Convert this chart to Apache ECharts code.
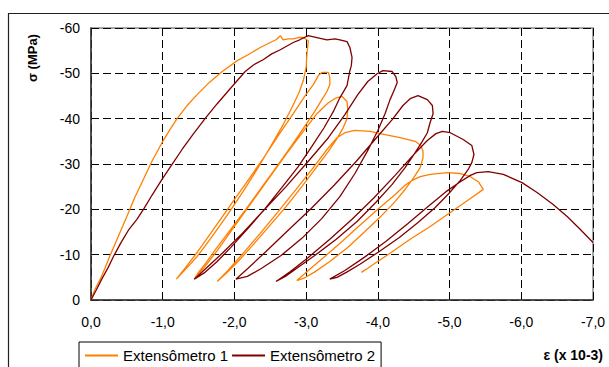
<!DOCTYPE html>
<html>
<head>
<meta charset="utf-8">
<script src="https://cdn.jsdelivr.net/npm/echarts@6/dist/echarts.min.js"></script>
<style>
html,body{margin:0;padding:0;background:#fff;}
#chart{width:609px;height:367px;}
</style>
</head>
<body>
<div id="chart"></div>
<script>
// ---- Data: strain (x 10-3) and stress (MPa) ----
const seriesNames = ['Extensômetro 1', 'Extensômetro 2'];
const xAxisName = 'ε (x 10-3)';
const yAxisName = 'σ (MPa)';

// Extensômetro 1 (orange)
const ext1Envelope = [[0,0],[-0.03,-1.3],[-0.07,-2.8],[-0.13,-4.6],[-0.20,-7.2],[-0.26,-9.6],[-0.38,-14.0],[-0.50,-18.4],[-0.61,-22.6],[-0.73,-26.6],[-0.85,-30.6],[-0.99,-34.7],[-1.10,-37.6],[-1.20,-40.0],[-1.34,-42.9],[-1.48,-45.3],[-1.65,-48.0],[-1.83,-50.4],[-2.04,-52.8],[-2.19,-54.1],[-2.36,-55.7],[-2.50,-56.8],[-2.58,-57.4],[-2.64,-58.3],[-2.68,-57.4],[-2.75,-57.6],[-2.82,-57.6],[-2.89,-57.9],[-2.96,-57.9],[-3.03,-57.2]];
const ext1Unload1 = [[-3.01,-54.1],[-3.00,-51.3],[-2.96,-48.4],[-2.90,-45.7],[-2.80,-42.4],[-2.68,-38.7],[-2.52,-34.3],[-2.33,-29.2],[-2.12,-23.9],[-1.90,-18.7],[-1.67,-13.6],[-1.48,-9.6],[-1.32,-6.8],[-1.19,-4.6]];
const ext1Reload2 = [[-1.32,-7.2],[-1.49,-10.7],[-1.70,-15.4],[-1.92,-20.4],[-2.16,-25.7],[-2.40,-31.2],[-2.62,-36.5],[-2.82,-41.1],[-2.98,-44.9],[-3.10,-47.5],[-3.17,-49.5],[-3.22,-50.2],[-3.31,-50.2],[-3.33,-49.1],[-3.33,-47.5],[-3.29,-46.0]];
const ext1Unload2 = [[-3.22,-44.2],[-3.12,-41.6],[-2.98,-38.3],[-2.80,-34.1],[-2.59,-29.4],[-2.37,-24.6],[-2.15,-19.8],[-1.94,-15.4],[-1.74,-11.2],[-1.59,-7.9],[-1.49,-5.9],[-1.44,-4.6]];
const ext1Reload3 = [[-1.58,-7.2],[-1.76,-10.9],[-1.98,-15.8],[-2.22,-21.1],[-2.47,-26.6],[-2.72,-32.1],[-2.96,-37.2],[-3.15,-41.1],[-3.31,-43.5],[-3.42,-44.6],[-3.50,-44.9],[-3.57,-43.8],[-3.58,-42.0],[-3.57,-40.0],[-3.51,-37.8]];
const ext1Unload3 = [[-3.43,-35.6],[-3.31,-32.8],[-3.14,-29.2],[-2.94,-25.0],[-2.72,-20.6],[-2.48,-16.2],[-2.25,-12.0],[-2.05,-8.5],[-1.90,-6.1],[-1.76,-4.1]];
const ext1Reload4 = [[-1.91,-6.5],[-2.12,-10.3],[-2.36,-14.7],[-2.61,-19.5],[-2.86,-24.4],[-3.10,-29.2],[-3.29,-33.2],[-3.43,-35.8],[-3.54,-36.9],[-3.68,-37.4],[-3.89,-37.2],[-4.10,-36.5],[-4.31,-35.8],[-4.52,-35.0],[-4.60,-34.1],[-4.63,-32.8],[-4.63,-31.4],[-4.59,-29.2]];
const ext1Unload4 = [[-4.50,-27.0],[-4.39,-24.6],[-4.24,-21.7],[-4.04,-18.4],[-3.82,-15.1],[-3.58,-11.6],[-3.33,-8.5],[-3.11,-6.1],[-2.97,-4.8],[-2.87,-4.3]];
const ext1Reload5 = [[-3.05,-6.8],[-3.26,-9.6],[-3.50,-12.9],[-3.75,-16.5],[-4.00,-20.0],[-4.23,-23.1],[-4.38,-25.3],[-4.48,-26.4],[-4.59,-27.2],[-4.73,-27.7],[-4.97,-28.1],[-5.15,-27.9],[-5.29,-27.2],[-5.40,-26.1],[-5.47,-24.4]];
const ext1Unload5 = [[-5.29,-22.4],[-5.01,-19.3],[-4.73,-16.2],[-4.45,-13.4],[-4.17,-10.3],[-3.96,-8.1],[-3.84,-6.8],[-3.77,-6.1]];

// Extensômetro 2 (dark red)
const ext2Envelope = [[0,0],[-0.07,-2.1],[-0.15,-4.6],[-0.24,-7.2],[-0.32,-9.8],[-0.42,-12.7],[-0.53,-15.6],[-0.64,-17.8],[-0.74,-20.2],[-0.85,-23.1],[-0.99,-26.6],[-1.13,-29.9],[-1.27,-33.2],[-1.42,-36.5],[-1.59,-40.0],[-1.76,-43.3],[-1.94,-46.6],[-2.15,-50.4],[-2.27,-51.9],[-2.40,-53.0],[-2.52,-54.3],[-2.64,-55.2],[-2.82,-56.8],[-2.91,-57.4],[-3.03,-58.3],[-3.15,-57.9],[-3.29,-57.4],[-3.40,-57.6],[-3.47,-57.4],[-3.57,-57.0],[-3.61,-55.7],[-3.64,-53.5],[-3.63,-51.7],[-3.61,-50.6],[-3.57,-47.3],[-3.47,-44.6]];
const ext2Unload1 = [[-3.38,-41.6],[-3.25,-38.0],[-3.08,-33.9],[-2.89,-29.4],[-2.66,-24.8],[-2.43,-20.2],[-2.19,-15.8],[-1.95,-11.6],[-1.76,-8.5],[-1.59,-6.1],[-1.44,-4.6]];
const ext2Reload2 = [[-1.59,-6.8],[-1.83,-10.3],[-2.11,-14.7],[-2.41,-19.8],[-2.72,-25.0],[-3.03,-30.6],[-3.31,-35.8],[-3.54,-40.9],[-3.72,-45.3],[-3.86,-48.2],[-3.99,-49.9],[-4.07,-50.6],[-4.20,-50.4],[-4.25,-49.3],[-4.27,-48.0],[-4.23,-46.4],[-4.17,-44.2]];
const ext2Unload2 = [[-4.10,-41.1],[-4.00,-37.4],[-3.86,-33.0],[-3.68,-27.9],[-3.47,-22.8],[-3.22,-18.0],[-2.94,-13.6],[-2.65,-9.8],[-2.38,-7.0],[-2.18,-5.2],[-2.02,-4.6]];
const ext2Reload3 = [[-2.19,-7.0],[-2.44,-10.7],[-2.75,-15.4],[-3.07,-20.2],[-3.39,-25.3],[-3.70,-30.6],[-3.96,-35.4],[-4.20,-39.8],[-4.35,-42.9],[-4.45,-44.4],[-4.56,-45.1],[-4.69,-44.2],[-4.76,-42.9],[-4.77,-41.1],[-4.73,-39.2],[-4.69,-36.9],[-4.62,-35.0]];
const ext2Unload3 = [[-4.52,-32.5],[-4.38,-29.2],[-4.20,-25.5],[-3.97,-21.5],[-3.71,-17.3],[-3.42,-13.4],[-3.12,-9.8],[-2.87,-7.0],[-2.71,-5.2],[-2.58,-4.1]];
const ext2Reload4 = [[-2.78,-6.3],[-3.03,-9.4],[-3.33,-13.4],[-3.64,-17.8],[-3.95,-22.6],[-4.24,-27.5],[-4.49,-31.9],[-4.69,-35.2],[-4.81,-36.7],[-4.90,-37.2],[-5.01,-36.9],[-5.19,-35.4],[-5.31,-34.1],[-5.34,-32.1],[-5.31,-30.3],[-5.26,-28.8]];
const ext2Unload4 = [[-5.15,-26.4],[-4.99,-23.5],[-4.80,-20.4],[-4.56,-17.1],[-4.30,-13.8],[-4.02,-10.7],[-3.75,-7.9],[-3.56,-6.1],[-3.43,-5.0],[-3.33,-4.6]];
const ext2Reload5 = [[-3.54,-6.5],[-3.81,-9.4],[-4.11,-12.9],[-4.42,-16.9],[-4.70,-20.6],[-4.95,-23.9],[-5.15,-26.1],[-5.29,-27.5],[-5.38,-28.1],[-5.54,-28.3],[-5.75,-27.7],[-6.01,-25.9],[-6.22,-23.7],[-6.44,-21.1],[-6.64,-18.4],[-6.82,-15.6],[-7.00,-12.7]];

const ext1 = [].concat(ext1Envelope, ext1Unload1, ext1Reload2, ext1Unload2, ext1Reload3, ext1Unload3, ext1Reload4, ext1Unload4, ext1Reload5, ext1Unload5);
const ext2 = [].concat(ext2Envelope, ext2Unload1, ext2Reload2, ext2Unload2, ext2Reload3, ext2Unload3, ext2Reload4, ext2Unload4, ext2Reload5);

const FONT = 'Liberation Sans, Arial, sans-serif';
const chart = echarts.init(document.getElementById('chart'), null, {renderer: 'svg'});
const gridDash = {color: '#000', width: 1, type: [8, 4]};

chart.setOption({
  animation: false,
  backgroundColor: '#fff',
  grid: {left: 91, top: 28, width: 502, height: 272, show: true, borderColor: '#8a8a8a', borderWidth: 1.5, containLabel: false},
  xAxis: {
    type: 'value', min: -7, max: 0, interval: 1, inverse: true,
    axisLine: {show: true, onZero: false, lineStyle: {color: '#333', width: 1.5}},
    axisTick: {show: false},
    splitLine: {show: true, lineStyle: gridDash},
    axisLabel: {color: '#000', fontFamily: FONT, fontSize: 14, margin: 15,
      formatter: v => v.toFixed(1).replace('.', ',').replace('-0,0','0,0')}
  },
  yAxis: {
    type: 'value', min: -60, max: 0, interval: 10, inverse: true,
    axisLine: {show: true, onZero: false, lineStyle: {color: '#333', width: 1.5}},
    axisTick: {show: false},
    splitLine: {show: true, lineStyle: gridDash},
    axisLabel: {color: '#000', fontFamily: FONT, fontSize: 14, margin: 11,
      formatter: v => String(v)}
  },
  legend: {
    data: seriesNames, left: 79, top: 342, orient: 'horizontal',
    borderColor: '#000', borderWidth: 1, borderRadius: 0,
    padding: [6, 6, 6, 6], itemGap: 4, itemWidth: 33, itemHeight: 2, icon: 'rect',
    textStyle: {color: '#000', fontFamily: FONT, fontSize: 15}
  },
  graphic: [
    {type: 'rect', silent: true, z: -10, shape: {x: 8.5, y: 13.5, width: 700, height: 500},
     style: {fill: 'none', stroke: '#222', lineWidth: 1.2}},
    {type: 'text', x: 32, y: 58, rotation: Math.PI / 2,
     style: {text: yAxisName, fill: '#000', font: 'bold 13px Liberation Sans, Arial, sans-serif', textAlign: 'center', textVerticalAlign: 'middle'}},
    {type: 'text', x: 603, y: 355,
     style: {text: xAxisName, fill: '#000', font: 'bold 14px Liberation Sans, Arial, sans-serif', textAlign: 'right', textVerticalAlign: 'middle'}}
  ],
  series: [
    {name: seriesNames[0], type: 'line', data: ext1, symbol: 'none', showSymbol: false,
     color: '#FF8000', lineStyle: {color: '#FF8000', width: 1.3}, z: 3},
    {name: seriesNames[1], type: 'line', data: ext2, symbol: 'none', showSymbol: false,
     color: '#800000', lineStyle: {color: '#800000', width: 1.3}, z: 4}
  ]
});
</script>
</body>
</html>
